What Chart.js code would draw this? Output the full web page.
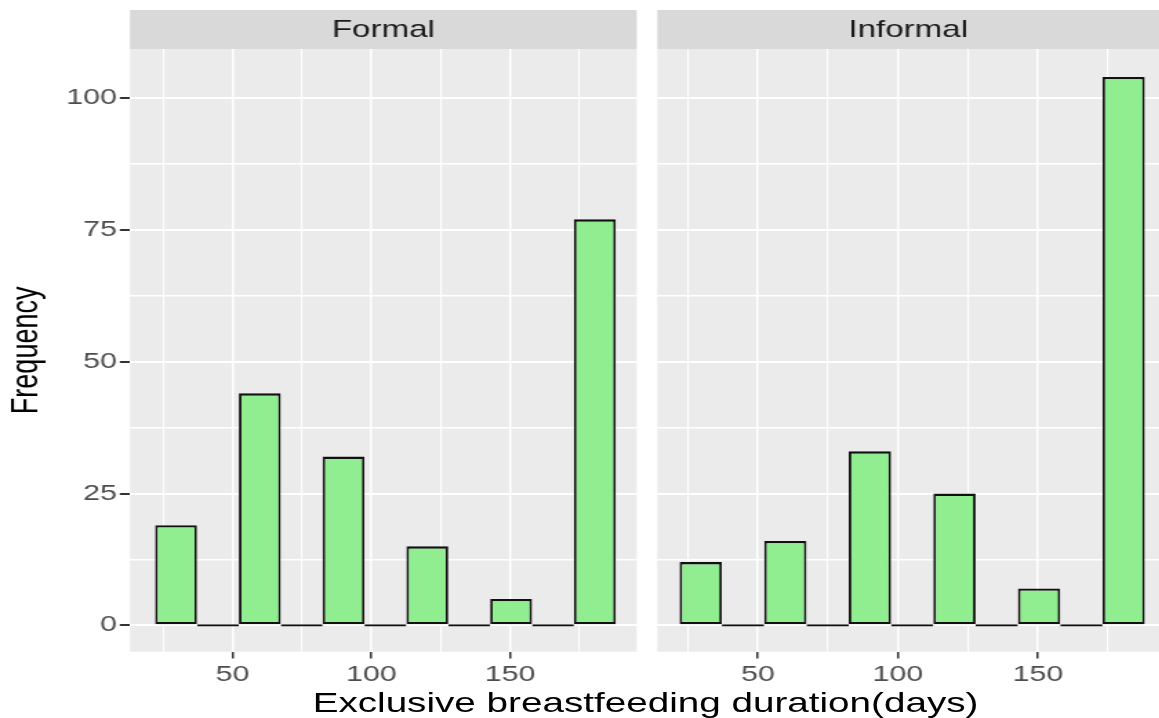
<!DOCTYPE html>
<html lang="en">
<head>
    <meta charset="UTF-8">
    <title>Exclusive breastfeeding duration</title>
    <script src="https://cdn.jsdelivr.net/npm/chart.js"></script>
    <style>
        html, body { margin: 0; padding: 0; background: #fff; overflow: hidden; }
        /* the reference is a horizontally stretched ggplot, so the whole stage is stretched too */
        #stage { position: absolute; left: 0; top: 0; width: 840px; height: 718px; transform: scaleX(1.38); transform-origin: 0 0; }
        #stage canvas { position: absolute; top: 0; }
        #xTitle { position: absolute; left: 0; width: 935.6px; top: 689px; text-align: center;
                  font: 28px "Liberation Sans", Arial, sans-serif; line-height: 28px; color: #000; white-space: nowrap; }
    </style>
</head>
<body>
    <div id="stage">
        <canvas id="formalChart" width="466" height="718" style="left:0px"></canvas>
        <canvas id="informalChart" width="370" height="718" style="left:470px"></canvas>
        <div id="xTitle">Exclusive breastfeeding duration(days)</div>
    </div>

    <script>
        // histogram bins (days) and counts per facet
        const binCenters = [29.6, 44.7, 59.8, 74.9, 90.0, 105.1, 120.2, 135.3, 150.4, 165.5, 180.6];
        const formalCounts = [19, 0, 44, 0, 32, 0, 15, 0, 5, 0, 77];
        const informalCounts = [12, 0, 16, 0, 33, 0, 25, 0, 7, 0, 104];

        const xMajorTicks = [50, 100, 150];
        const xMinorTicks = [25, 75, 125, 175];
        const yMajorTicks = [0, 25, 50, 75, 100];
        const yMinorTicks = [12.5, 37.5, 62.5, 87.5];

        const family = '"Liberation Sans", Arial, sans-serif';

        const panelBackground = {
            id: 'panelBackground',
            beforeDraw(chart) {
                const { ctx, chartArea: a } = chart;
                ctx.save();
                ctx.fillStyle = '#ebebeb';
                ctx.fillRect(a.left, a.top, a.right - a.left, a.bottom - a.top);
                ctx.restore();
            }
        };

        const facetStrip = {
            id: 'facetStrip',
            afterDraw(chart, args, opts) {
                const { ctx, chartArea: a } = chart;
                ctx.save();
                ctx.fillStyle = '#d9d9d9';
                ctx.fillRect(a.left, 10, a.right - a.left, a.top - 10);
                ctx.fillStyle = '#1a1a1a';
                ctx.font = '24px ' + family;
                ctx.textAlign = 'center';
                ctx.textBaseline = 'middle';
                ctx.fillText(opts.label, (a.left + a.right) / 2, (10 + a.top) / 2 + 1);
                ctx.restore();
            }
        };

        function allTicks(major, minor) {
            return major.concat(minor).sort((a, b) => a - b).map(v => ({ value: v }));
        }

        function makePanel(id, label, counts, xMin, xMax, withYAxis, padding) {
            return new Chart(document.getElementById(id), {
                type: 'bar',
                data: {
                    datasets: [{
                        data: binCenters.map((x, i) => ({ x: x, y: counts[i] })),
                        backgroundColor: '#90ee90',
                        borderColor: '#111111',
                        borderWidth: { top: 2.4, bottom: 2.4, left: 1.9, right: 1.9 },
                        borderSkipped: false,
                        inflateAmount: 0,
                        minBarLength: 2.4,
                        categoryPercentage: 1,
                        barPercentage: 1
                    }]
                },
                options: {
                    responsive: false,
                    animation: false,
                    layout: { padding: padding },
                    plugins: {
                        legend: { display: false },
                        tooltip: { enabled: false },
                        facetStrip: { label: label }
                    },
                    scales: {
                        x: {
                            type: 'linear',
                            min: xMin,
                            max: xMax,
                            offset: false,
                            afterBuildTicks: s => { s.ticks = allTicks(xMajorTicks, xMinorTicks); },
                            afterFit: s => { s.height = 66.3; },
                            ticks: {
                                autoSkip: false,
                                maxRotation: 0,
                                padding: 3,
                                color: '#4d4d4d',
                                font: { family: family, size: 22 },
                                callback: v => xMajorTicks.includes(v) ? v : ''
                            },
                            grid: {
                                offset: false,
                                color: '#ffffff',
                                lineWidth: c => xMajorTicks.includes(c.tick.value) ? 1.5 : 1.1,
                                tickColor: c => xMajorTicks.includes(c.tick.value) ? '#333333' : 'rgba(0,0,0,0)',
                                tickLength: 6.7,
                                tickWidth: 1.5
                            },
                            border: { display: false }
                        },
                        y: {
                            min: -5,
                            max: 109.3,
                            afterBuildTicks: s => { s.ticks = allTicks(yMajorTicks, yMinorTicks); },
                            afterFit: s => { s.width = withYAxis ? 94.2 : 0; },
                            ticks: {
                                display: withYAxis,
                                autoSkip: false,
                                padding: 2,
                                color: '#4d4d4d',
                                font: { family: family, size: 22 },
                                callback: v => yMajorTicks.includes(v) ? v : ''
                            },
                            grid: {
                                color: '#ffffff',
                                lineWidth: c => yMajorTicks.includes(c.tick.value) ? 2 : 1.4,
                                tickColor: c => yMajorTicks.includes(c.tick.value) ? '#333333' : 'rgba(0,0,0,0)',
                                drawTicks: withYAxis,
                                tickLength: 7.4,
                                tickWidth: 2
                            },
                            border: { display: false },
                            title: {
                                display: withYAxis,
                                text: 'Frequency',
                                color: '#000000',
                                font: { family: family, size: 27 },
                                padding: { top: 3.7, bottom: 0 }
                            }
                        }
                    }
                },
                plugins: [panelBackground, facetStrip]
            });
        }

        makePanel('formalChart', 'Formal', formalCounts, 13.0, 195.7, true, { top: 49, right: 4.6, left: 0, bottom: 0 });
        makePanel('informalChart', 'Informal', informalCounts, 14.1, 193.3, false, { top: 49, right: 0, left: 6.3, bottom: 0 });
    </script>
</body>
</html>
